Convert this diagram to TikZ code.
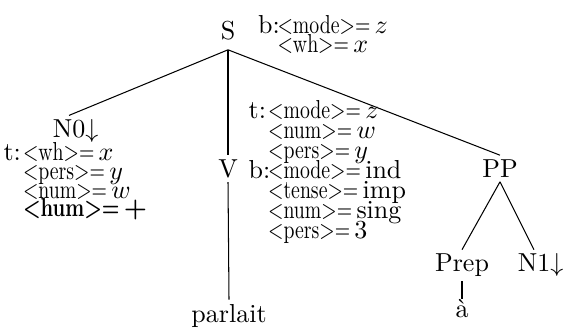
\documentclass[tikz,border=0pt]{standalone}
\usepackage{graphicx}
\usetikzlibrary{positioning}

% squeezed attribute in brackets, then its value
\newcommand{\fv}[2]{\scalebox{0.76}[1]{$<$#1$>=$}\,#2}
% t: / b: prefix of a feature line
\newcommand{\tb}[1]{\makebox[7.5pt][l]{#1}}
% lines set on the baselineskip alone
\newcommand{\tightlines}{\lineskiplimit-20pt\relax}

\tikzset{
  cat/.style={inner sep=1.5pt},
  feat/.style={inner sep=0pt, align=left,
    font=\fontsize{10}{#1}\selectfont\tightlines},
  branch/.style={line width=0.4pt}
}

\begin{document}
\begin{tikzpicture}[x=0.3846pt, y=-0.3846pt]

\useasboundingbox (0,0) rectangle (564,329);

% ============================================================
%  tree nodes (pixel grid, y down)
% ============================================================
\node[cat, inner ysep=3.4pt] (S) at (228, 31) {S};
\node[cat] (N0)   at (69, 129)  {N0\rlap{\smash{$\downarrow$}}};
\node[cat] (V)    at (228, 168.5) {V};
\node[cat] (PP)   at (500, 168.5) {PP};
\node[cat] (Prep) at (462, 265.5) {Prep};
\node[cat] (N1)   at (534, 263) {N1\rlap{\smash{$\downarrow$}}};
\node[cat] (parl) at (229, 315.5) {parlait};
\node[cat, inner ysep=0pt] (a) at (462, 309) {\`a};

% ---- feature structures ----
\node[feat=7.3pt, right=6.9pt of S, yshift=-1.2pt] (Sf) {%
  \tb{b:}\fv{mode}{$z$}\\
  \tb{}\fv{wh}{$x$}};

\node[feat=7.7pt, right=2.3pt of V, yshift=-1.4pt] (Vf) {%
  \tb{t:}\fv{mode}{$z$}\\
  \tb{}\fv{num}{$w$}\\
  \tb{}\fv{pers}{$y$}\\
  \tb{b:}\fv{mode}{ind}\\
  \tb{}\fv{tense}{imp}\\
  \tb{}\fv{num}{sing}\\
  \tb{}\fv{pers}{3}};

\node[feat=7.2pt, anchor=north west] (N0f) at (3, 142) {%
  \tb{t:}\fv{wh}{$x$}\\
  \tb{}\fv{pers}{$y$}\\
  \tb{}\fv{num}{$w$}\\
  \tb{}{\bfseries\boldmath\fv{hum}{$+$}}};

% ---- branches ----
\draw[branch] (S.south) -- (N0.north);
\draw[branch] (S.south) -- (V.north);
\draw[branch] (S.south) -- (PP.north);
\draw[branch] (V.south) -- (parl.north);
\draw[branch] (PP.south) -- (Prep.north);
\draw[branch] (PP.south) -- (N1.north);
\draw[branch] (Prep.south) -- (a.north);

\end{tikzpicture}
\end{document}
